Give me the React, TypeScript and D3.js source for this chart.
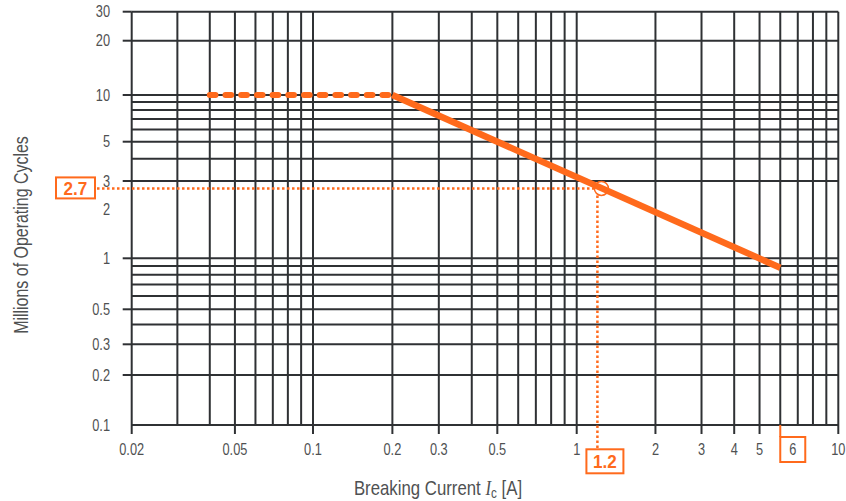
import React from "react";
import * as d3 from "d3";

// ---- data ----
const xGridValues = [0.02, 0.03, 0.04, 0.05, 0.06, 0.07, 0.08, 0.09, 0.1, 0.2, 0.3, 0.4, 0.5, 0.6, 0.7, 0.8, 0.9, 1, 2, 3, 4, 5, 6, 7, 8, 9, 10];
const xTickLabels = [0.02, 0.05, 0.1, 0.2, 0.3, 0.5, 1, 2, 3, 4, 5, 10];
const yGridValues = [30, 20, 10, 9, 8, 7, 6, 5, 4, 3, 1, 0.9, 0.8, 0.7, 0.6, 0.5, 0.4, 0.3, 0.2, 0.1];
const yTickLabels = [30, 20, 10, 5, 3, 2, 1, 0.5, 0.3, 0.2, 0.1];
const yTicksWithMark = [30, 20, 10, 5, 3, 1, 0.5, 0.3, 0.2];
const dashedSegment: [number, number][] = [[0.04, 10], [0.2, 10]];
const solidSegment: [number, number][] = [[0.2, 10], [6, 0.88]];
const markerPoint: [number, number] = [1.2, 2.7];
const endCurrent = 6;

const ORANGE = "#ff6a1c";
const GRID = "#2f3134";
const TEXT = "#4f5152";
const FONT = "'Liberation Sans', Arial, sans-serif";

function SText(props: {
  x: number;
  y: number;
  sx: number;
  rotate?: number;
  anchor?: string;
  size: number;
  weight?: string;
  fill: string;
  dy?: string;
  children: React.ReactNode;
}) {
  const { x, y, sx, rotate = 0, anchor = "middle", size, weight = "normal", fill, dy, children } = props;
  return (
    <g transform={`translate(${x},${y}) rotate(${rotate}) scale(${sx},1)`}>
      <text x={0} y={0} dy={dy} textAnchor={anchor} fontFamily={FONT} fontSize={size} fontWeight={weight} fill={fill}>
        {children}
      </text>
    </g>
  );
}

export default function App() {
  const x = d3.scaleLog().domain([0.02, 0.1, 1, 10]).range([131.7, 313, 576.7, 838.3]);
  const y = d3
    .scaleLog()
    .domain([0.1, 0.2, 0.3, 0.5, 1, 3, 5, 10, 20, 30])
    .range([425, 375, 344.3, 309.3, 258.3, 181, 141.7, 95, 40.7, 11.7]);

  const line = d3
    .line<[number, number]>()
    .x((d) => x(d[0]))
    .y((d) => y(d[1]));

  const x0 = x(0.02);
  const x1 = x(10);
  const yTop = y(30);
  const yBot = y(0.1);
  const mx = x(markerPoint[0]);
  const my = y(markerPoint[1]);
  const ex = x(endCurrent);
  const fmt = (v: number) => String(v);

  return (
    <svg width={846} height={501} style={{ position: "absolute", left: 0, top: 0, background: "#fff" }}>
      {yGridValues.map((v) => (
        <line key={"h" + v} x1={x0} x2={x1} y1={y(v)} y2={y(v)} stroke={GRID} strokeWidth={2} />
      ))}
      {xGridValues.map((v) => (
        <line key={"v" + v} x1={x(v)} x2={x(v)} y1={yTop} y2={yBot} stroke={GRID} strokeWidth={2} />
      ))}
      {yTicksWithMark.map((v) => (
        <line key={"yt" + v} x1={x0 - 9} x2={x0} y1={y(v)} y2={y(v)} stroke={GRID} strokeWidth={2} />
      ))}
      {xTickLabels.map((v) => (
        <line key={"xt" + v} x1={x(v)} x2={x(v)} y1={yBot} y2={yBot + 9} stroke={GRID} strokeWidth={2} />
      ))}
      {yTickLabels.map((v) => (
        <SText key={"yl" + v} x={110} y={y(v)} dy="0.36em" anchor="end" sx={0.8} size={16} fill={TEXT}>
          {fmt(v)}
        </SText>
      ))}
      {xTickLabels.map((v) => (
        <SText key={"xl" + v} x={x(v)} y={455} sx={0.8} size={16} fill={TEXT}>
          {fmt(v)}
        </SText>
      ))}

      {/* dotted guide lines */}
      <line x1={97} x2={mx - 3} y1={my} y2={my} stroke={ORANGE} strokeWidth={2.5} strokeDasharray="2.5 2.5" />
      <line x1={mx} x2={mx} y1={my + 7} y2={449} stroke={ORANGE} strokeWidth={2.5} strokeDasharray="2.5 2.5" />

      {/* curve */}
      <path d={line(dashedSegment) || ""} fill="none" stroke={ORANGE} strokeWidth={6} strokeLinecap="round" strokeDasharray="5.7 10" />
      <path d={line(solidSegment) || ""} fill="none" stroke={ORANGE} strokeWidth={6.5} strokeLinecap="butt" />
      <circle cx={mx + 4} cy={my} r={7} fill="none" stroke={ORANGE} strokeWidth={1.5} />

      {/* 2.7 box */}
      <rect x={56} y={my - 11} width={39} height={21} fill="#fff" stroke={ORANGE} strokeWidth={2} />
      <SText x={75.5} y={my} dy="0.36em" sx={0.95} size={18} weight="bold" fill={ORANGE}>
        {fmt(markerPoint[1])}
      </SText>
      {/* 1.2 box */}
      <rect x={mx - 11} y={449.3} width={37} height={24} fill="#fff" stroke={ORANGE} strokeWidth={2} />
      <SText x={mx + 7.5} y={461.3} dy="0.36em" sx={0.95} size={18} weight="bold" fill={ORANGE}>
        {fmt(markerPoint[0])}
      </SText>
      {/* 6 box */}
      <line x1={ex} x2={ex} y1={yBot} y2={437} stroke={ORANGE} strokeWidth={2} />
      <rect x={ex} y={437} width={25} height={25} fill="#fff" stroke={ORANGE} strokeWidth={2} />
      <SText x={ex + 12.5} y={449.5} dy="0.36em" sx={0.8} size={16} fill={TEXT}>
        {fmt(endCurrent)}
      </SText>

      {/* axis titles */}
      <g transform="translate(438,495) scale(0.84,1)">
        <text x={0} y={0} textAnchor="middle" fontFamily={FONT} fontSize={20} fill={TEXT}>
          Breaking Current{" "}
          <tspan fontFamily="'Liberation Serif', 'DejaVu Serif', serif" fontStyle="italic">I</tspan>
          <tspan fontSize={14} dy={3}>c</tspan>
          <tspan dy={-3}> [A]</tspan>
        </text>
      </g>
      <SText x={28} y={235} rotate={-90} sx={0.76} size={21} fill={TEXT}>
        Millions of Operating Cycles
      </SText>
    </svg>
  );
}
